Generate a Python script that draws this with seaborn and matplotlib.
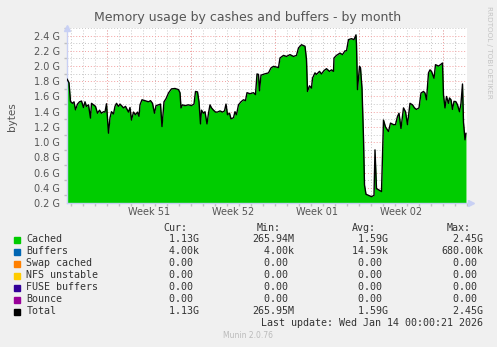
import numpy as np
import pandas as pd
import matplotlib
matplotlib.use("Agg")
import matplotlib.pyplot as plt
import matplotlib.dates as mdates
from matplotlib.patches import Rectangle
from matplotlib.ticker import FuncFormatter, MultipleLocator
import seaborn as sns

# ---------------- data ----------------
period_start = pd.Timestamp("2025-12-11 16:00")
period_end = pd.Timestamp("2026-01-14 00:00")

hours = [0, 4, 7, 11, 14, 17, 21, 25, 29, 33, 36, 39, 43, 47, 49, 53, 57, 61, 65, 69,
         73, 76, 79, 83, 86, 89, 93, 96, 99, 103, 106, 109, 113, 117, 123, 126, 129, 133,
         137, 141, 144, 146, 150, 156, 163, 167, 171, 175, 178, 183, 187, 190, 194, 198,
         203, 209, 216, 223, 226, 228, 231, 236, 243, 249, 254, 257, 261, 264, 267, 269,
         273, 276, 280, 283, 286, 289, 293, 297, 301, 306, 311, 315, 318, 321, 325, 328,
         333, 336, 339, 343, 348, 353, 357, 360, 366, 373, 377, 380, 383, 385, 388, 395,
         403, 408, 413, 423, 426, 433, 439, 446, 453, 459, 463, 469, 476, 479, 481, 485,
         489, 491, 496, 499, 505, 509, 514, 519, 525, 529, 533, 534, 539, 546, 551, 556,
         559, 563, 569, 574, 578, 579, 581, 585, 587, 590, 593, 595, 598, 603, 609, 614,
         616, 619, 624, 629, 633, 637, 643, 647, 653, 657, 661, 664, 668, 673, 677, 681,
         686, 691, 695, 699, 704, 708, 713, 716, 719, 723, 726, 729, 734, 737, 743, 747,
         751, 753, 756, 759, 763, 765, 768, 771, 774, 778, 781, 785, 788, 791, 793, 796, 798]
cached_g = [1.83, 1.78, 1.535, 1.51, 1.53, 1.425, 1.50, 1.53, 1.54, 1.455, 1.53, 1.47, 1.49,
            1.316, 1.51, 1.49, 1.47, 1.38, 1.42, 1.38, 1.40, 1.395, 1.504, 1.118, 1.32,
            1.40, 1.37, 1.47, 1.51, 1.47, 1.50, 1.48, 1.45, 1.47, 1.395, 1.455, 1.29, 1.395,
            1.36, 1.395, 1.34, 1.49, 1.557, 1.545, 1.53, 1.545, 1.51, 1.38, 1.48, 1.49,
            1.50, 1.205, 1.53, 1.57, 1.645, 1.70, 1.705, 1.69, 1.65, 1.45, 1.49, 1.48, 1.49,
            1.48, 1.50, 1.666, 1.66, 1.53, 1.24, 1.42, 1.38, 1.40, 1.24, 1.38, 1.49, 1.45,
            1.42, 1.395, 1.395, 1.41, 1.395, 1.41, 1.50, 1.36, 1.38, 1.307, 1.32, 1.40, 1.36,
            1.49, 1.53, 1.557, 1.545, 1.65, 1.636, 1.65, 1.625, 1.896, 1.89, 1.675, 1.88,
            1.896, 1.91, 1.975, 1.996, 1.98, 2.106, 2.14, 2.126, 2.15, 2.126, 2.14, 2.238,
            2.28, 2.26, 2.084, 1.666, 1.74, 1.71, 1.84, 1.91, 1.89, 1.93, 1.896, 1.94,
            1.965, 1.93, 1.95, 1.93, 2.106, 2.14, 2.17, 2.15, 2.20, 2.20, 2.347, 2.36,
            2.347, 2.41, 2.28, 1.69, 1.996, 1.975, 1.71, 1.05, 0.437, 0.315, 0.30, 0.283,
            0.30, 0.898, 0.39, 0.37, 0.35, 1.29, 1.20, 1.14, 1.25, 1.23, 1.23, 1.337, 1.38,
            1.18, 1.45, 1.40, 1.23, 1.51, 1.49, 1.45, 1.43, 1.45, 1.645, 1.666, 1.645,
            1.557, 1.91, 1.95, 1.93, 1.84, 2.018, 2.0, 2.018, 2.04, 1.62, 1.45, 1.60, 1.51,
            1.58, 1.557, 1.43, 1.536, 1.53, 1.49, 1.40, 1.51, 1.764, 1.26, 1.03, 1.118]

week_labels = ["Week 51", "Week 52", "Week 01", "Week 02"]
week_starts = ["2025-12-15", "2025-12-22", "2025-12-29", "2026-01-05"]

legend_names = ["Cached", "Buffers", "Swap cached", "NFS unstable", "FUSE buffers", "Bounce", "Total"]
legend_colors = ["#00CC00", "#0066B3", "#FF8000", "#FFCC00", "#330099", "#990099", "#000000"]
cur_vals = ["  1.13G", "  4.00k", "  0.00 ", "  0.00 ", "  0.00 ", "  0.00 ", "  1.13G"]
min_vals = ["265.94M", "  4.00k", "  0.00 ", "  0.00 ", "  0.00 ", "  0.00 ", "265.95M"]
avg_vals = ["  1.59G", " 14.59k", "  0.00 ", "  0.00 ", "  0.00 ", "  0.00 ", "  1.59G"]
max_vals = ["  2.45G", "680.00k", "  0.00 ", "  0.00 ", "  0.00 ", "  0.00 ", "  2.45G"]

# ---------------- figure ----------------
sns.set_theme(style="white")
plt.rcParams["font.family"] = ["DejaVu Sans"]

W, H = 497, 347
fig = plt.figure(figsize=(W / 100, H / 100), dpi=100, facecolor="#F0F0F0")
ax = fig.add_axes([67 / W, 1 - 203 / H, 400 / W, 175 / H])
ax.set_facecolor("white")

df = pd.DataFrame({"time": period_start + pd.to_timedelta(hours, unit="h"),
                   "cached": cached_g})

ax.fill_between(df["time"], 0, df["cached"], color="#00CC00", lw=0, zorder=2)
sns.lineplot(data=df, x="time", y="cached", color="black", lw=1.0, ax=ax, zorder=3)

ax.set_xlim(period_start, period_end)
ax.set_ylim(0.2, 2.5)

# y axis
ax.yaxis.set_major_locator(MultipleLocator(0.2))
ax.yaxis.set_minor_locator(MultipleLocator(0.1))
ax.yaxis.set_major_formatter(FuncFormatter(lambda v, p: f"{v:.1f} G"))
ax.set_yticks([v for v in np.arange(0.2, 2.41, 0.2)])

# x axis: daily minor ticks, week labels at week centres
ax.xaxis.set_minor_locator(mdates.DayLocator())
centers = [pd.Timestamp(s) + pd.Timedelta(hours=84) for s in week_starts]
ax.set_xticks(centers)
ax.set_xticklabels(week_labels)

ax.tick_params(axis="both", which="major", labelsize=7, labelcolor="#555555", length=0, pad=3)
ax.tick_params(axis="y", which="major", length=2, color="#FF9090", pad=3)
ax.tick_params(axis="x", which="minor", length=2, color="#C0C0C0", bottom=True)
ax.tick_params(axis="y", which="minor", length=2, color="#C0C0C0", left=True)

ax.set_axisbelow(True)
ax.grid(axis="y", which="major", color="#F4A0A0", linestyle=(0, (1, 2)), lw=0.7)
ax.grid(axis="y", which="minor", color="#C8C8C8", linestyle=(0, (1, 2)), lw=0.7)
ax.grid(axis="x", which="minor", color="#C8C8C8", linestyle=(0, (1, 2)), lw=0.7)
ax.grid(axis="x", which="major", visible=False)
for s in pd.date_range(period_start.ceil("D"), period_end, freq="W-MON"):
    ax.axvline(s, color="#F4A0A0", linestyle=(0, (1, 2)), lw=0.7, zorder=1)

ax.set_xlabel("")
ax.set_ylabel("")
for side in ["top", "right"]:
    ax.spines[side].set_visible(False)
for side in ["left", "bottom"]:
    ax.spines[side].set_color("#C8D0F4")
    ax.spines[side].set_linewidth(1.0)
ax.plot([0], [1.0], marker="^", ms=4, color="#C8D0F4", transform=ax.transAxes, clip_on=False)
ax.plot([1.01], [0], marker=">", ms=4, color="#C8D0F4", transform=ax.transAxes, clip_on=False)

# titles and side texts
fig.text(248 / W, 1 - 18 / H, "Memory usage by cashes and buffers - by month",
         ha="center", va="center", fontsize=9, color="#555555")
fig.text(12 / W, 1 - 117 / H, "bytes", rotation=90, ha="center", va="center",
         fontsize=7.5, color="#555555")
fig.text(489 / W, 1 - 6 / H, "RRDTOOL / TOBI OETIKER", rotation=270, ha="center", va="top",
         fontsize=5.2, color="#C4C4C4")

# legend table
mono = dict(family="DejaVu Sans Mono", fontsize=7.2, color="#333333", va="center")
header_y = 228
fig.text(163 / W, 1 - header_y / H, "Cur:", ha="left", **mono)
fig.text(257 / W, 1 - header_y / H, "Min:", ha="left", **mono)
fig.text(352 / W, 1 - header_y / H, "Avg:", ha="left", **mono)
fig.text(447 / W, 1 - header_y / H, "Max:", ha="left", **mono)
for i, name in enumerate(legend_names):
    y = 239.5 + 12 * i
    fig.patches.append(Rectangle((14 / W, 1 - (y + 3) / H), 6 / W, 6 / H,
                                 transform=fig.transFigure, color=legend_colors[i],
                                 figure=fig))
    fig.text(26.5 / W, 1 - y / H, name, ha="left", **mono)
    fig.text(157 / W, 1 - y / H, cur_vals[i], ha="left", **mono)
    fig.text(252 / W, 1 - y / H, min_vals[i], ha="left", **mono)
    fig.text(346 / W, 1 - y / H, avg_vals[i], ha="left", **mono)
    fig.text(441 / W, 1 - y / H, max_vals[i], ha="left", **mono)

fig.text(483 / W, 1 - 323.5 / H, "Last update: Wed Jan 14 00:00:21 2026", ha="right", **mono)
fig.text(248 / W, 1 - 336 / H, "Munin 2.0.76", ha="center", va="center",
         fontsize=5.5, color="#BBBBBB")

fig.savefig("out.png", dpi=100, facecolor=fig.get_facecolor())
